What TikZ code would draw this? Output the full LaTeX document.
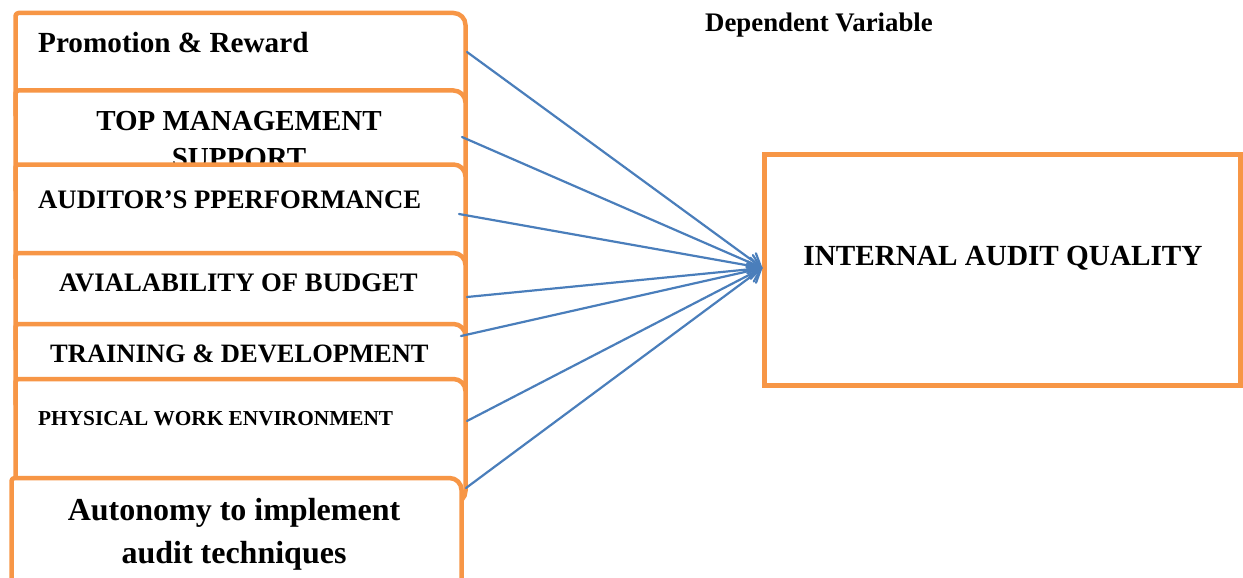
\documentclass[tikz,border=0pt]{standalone}
\usepackage{fontspec}
\setmainfont{Liberation Serif}
\usetikzlibrary{arrows.meta}
\definecolor{boxorange}{HTML}{F79646}
\definecolor{linkblue}{HTML}{4A7EBB}

% factor box: left, top, right, bottom (y grows downwards)
\newcommand\factorbox[4]{%
  \path[framed] (#1,#4) [rounded corners=3pt] -- (#1,#2) -- ({(#1+#3)/2},#2)
    [rounded corners=12pt] -- (#3,#2) -- (#3,#4) [sharp corners] -- cycle;}

\begin{document}
\begin{tikzpicture}[x=1pt,y=-1pt,
  framed/.style={draw=boxorange, line width=4.5pt, fill=white, line join=round},
  lbl/.style={inner sep=0pt, align=center},
  link/.style={draw=linkblue, line width=2.2pt, line cap=round,
    -{Straight Barb[length=12pt,width=16pt,line cap=round]}}]
\clip (0,0) rectangle (1243,578);

% independent factors, each one partly covering the one above it
% (two-line labels are anchored at the baseline of their last line)
\factorbox{15.5}{13}{465.5}{115}
\node[lbl, font=\bfseries\fontsize{29.2}{34}\selectfont, anchor=base west] (promo) at (38,53) {Promotion \& Reward};

\factorbox{15.5}{90.5}{465.5}{190}
\node[lbl, font=\bfseries\fontsize{29}{37}\selectfont, anchor=base] (topm) at (239,167) {TOP MANAGEMENT\\SUPPORT};

\factorbox{15.5}{164.5}{465.5}{278}
\node[lbl, font=\bfseries\fontsize{26.7}{32}\selectfont, anchor=base west] (perf) at (38,208) {AUDITOR’S PPERFORMANCE};

\factorbox{15.5}{253}{465.5}{349}
\node[lbl, font=\bfseries\fontsize{26.7}{32}\selectfont, anchor=base west] (budget) at (59,291) {AVIALABILITY OF BUDGET};

\factorbox{15.5}{324}{465.5}{404}
\node[lbl, font=\bfseries\fontsize{26.5}{32}\selectfont, anchor=base west] (train) at (50,362) {TRAINING \& DEVELOPMENT};

\factorbox{15.5}{379}{465.5}{503}
\node[lbl, font=\bfseries\fontsize{21.3}{26}\selectfont, anchor=base west] (phys) at (38,425) {PHYSICAL WORK ENVIRONMENT};

\factorbox{11.5}{478}{461.5}{640}
\node[lbl, font=\bfseries\fontsize{32}{43}\selectfont, anchor=base] (auto) at (234,563) {Autonomy to implement\\audit techniques};

% dependent variable
\node[lbl, font=\bfseries\fontsize{26.8}{32}\selectfont, anchor=base west] (dephead) at (705,32) {Dependent Variable};
\node[draw=boxorange, line width=4.5pt, fill=white, outer sep=0pt, inner sep=0pt,
  minimum width=476pt, minimum height=231pt, anchor=north west] (iaq) at (764.5,154.5) {};
\node[lbl, font=\bfseries\fontsize{29.2}{34}\selectfont, anchor=base] (iaqtext) at (1003,265) {INTERNAL AUDIT QUALITY};

% connector end points on the factor boxes
\coordinate (promo-out)  at (467,52);
\coordinate (topm-out)   at (462,137);
\coordinate (perf-out)   at (459,214);
\coordinate (budget-out) at (467,297);
\coordinate (train-out)  at (461,336);
\coordinate (phys-out)   at (467,421);
\coordinate (auto-out)   at (466,488);
\coordinate (hub) at ([xshift=-2pt,yshift=2pt]iaq.west);

\foreach \src in {promo,topm,perf,budget,train,phys,auto}
  \draw[link] (\src-out) -- (hub);
\end{tikzpicture}
\end{document}
